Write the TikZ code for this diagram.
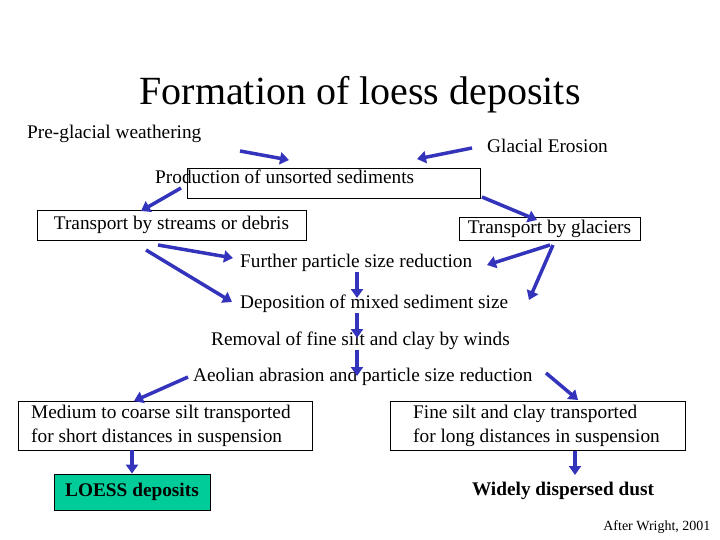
\documentclass[tikz,border=0pt]{standalone}
\usepackage{fontspec}
\setmainfont{Liberation Serif}
\usetikzlibrary{arrows.meta}
\definecolor{arr}{HTML}{3333BB}
\definecolor{loess}{HTML}{00CC99}
\begin{document}
\begin{tikzpicture}[x=1pt,y=-1pt,
  txt/.style={font=\fontsize{19.3}{22}\selectfont,inner sep=0pt,anchor=west},
  bx/.style={draw,line width=0.8pt},
  ar/.style={draw=arr,line width=3.5pt,-{Triangle[length=9pt,width=12pt]}}]
\useasboundingbox (0,0) rectangle (720,540);
\node[font=\fontsize{40}{44}\selectfont] (title) at (360,95) {Formation of loess deposits};
\node[txt] (pre) at (27,134) {Pre-glacial weathering};
\node[txt] (ge) at (487,146) {Glacial Erosion};
\node[bx,minimum width=293pt,minimum height=30pt,inner sep=0pt] (ubox) at (333.5,183) {};
\node[txt] (prod) at (155,177) {Production of unsorted sediments};
\node[bx,minimum width=269pt,minimum height=30pt,inner sep=0pt,font=\fontsize{19.3}{22}\selectfont] (str) at (171.5,225) {Transport by streams or debris};
\node[bx,minimum width=181pt,minimum height=23pt,inner sep=0pt,font=\fontsize{19.3}{22}\selectfont] (gla) at (549.5,228.5) {Transport by glaciers};
\node[txt] (fur) at (240,263) {Further particle size reduction};
\node[txt] (dep) at (240,304) {Deposition of mixed sediment size};
\node[txt] (rem) at (211,341) {Removal of fine silt and clay by winds};
\node[txt] (aeo) at (193,377) {Aeolian abrasion and particle size reduction};
\node[bx,minimum width=294pt,minimum height=49pt,inner sep=0pt] (med) at (165,425.5) {};
\node[txt,align=left,font=\fontsize{19.3}{24}\selectfont] (medt) at (31,425.5) {Medium to coarse silt transported\\for short distances in suspension};
\node[bx,minimum width=295pt,minimum height=49pt,inner sep=0pt] (fine) at (537.5,425.5) {};
\node[txt,align=left,font=\fontsize{19.3}{24}\selectfont] (finet) at (413,425.5) {Fine silt and clay transported\\for long distances in suspension};
\node[bx,fill=loess,minimum width=156pt,minimum height=36pt,inner sep=0pt,font=\fontsize{19.3}{22}\selectfont\bfseries] (lo) at (132,492) {LOESS deposits};
\node[font=\fontsize{19.3}{22}\selectfont\bfseries] (dust) at (563,491) {Widely dispersed dust};
\node[font=\fontsize{14}{16}\selectfont,anchor=east] (aw) at (714,527) {After Wright, 2001};
\coordinate (a1) at (240,151); \coordinate (a2) at (289,160);
\draw[ar] (a1) -- (a2);
\coordinate (b1) at (472,148); \coordinate (b2) at (417,159);
\draw[ar] (b1) -- (b2);
\coordinate (c1) at (181,188); \coordinate (c2) at (141,211);
\draw[ar] (c1) -- (c2);
\coordinate (d1) at (482,197); \coordinate (d2) at (537,220);
\draw[ar] (d1) -- (d2);
\coordinate (e1) at (158,245); \coordinate (e2) at (233,258);
\draw[ar] (e1) -- (e2);
\coordinate (f1) at (146,250); \coordinate (f2) at (232,302);
\draw[ar] (f1) -- (f2);
\coordinate (g1) at (550,245); \coordinate (g2) at (487,265);
\draw[ar] (g1) -- (g2);
\coordinate (h1) at (553,245); \coordinate (h2) at (529,300);
\draw[ar] (h1) -- (h2);
\coordinate (v1) at (357,272); \coordinate (v2) at (357,298);
\draw[ar] (v1) -- (v2);
\coordinate (v3) at (357,313); \coordinate (v4) at (357,338);
\draw[ar] (v3) -- (v4);
\coordinate (v5) at (357,350); \coordinate (v6) at (357,376);
\draw[ar] (v5) -- (v6);
\coordinate (l1) at (188,377); \coordinate (l2) at (134,401);
\draw[ar] (l1) -- (l2);
\coordinate (r1) at (546,373); \coordinate (r2) at (578,400);
\draw[ar] (r1) -- (r2);
\draw[ar] (med.south -| lo.north) -- (lo.north);
\coordinate (n1) at (575,451); \coordinate (n2) at (575,475);
\draw[ar] (n1) -- (n2);
\end{tikzpicture}
\end{document}
